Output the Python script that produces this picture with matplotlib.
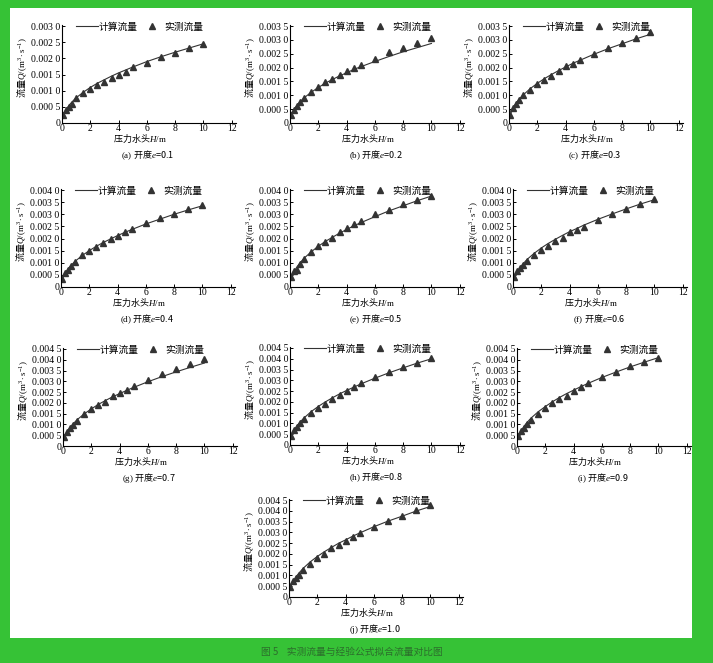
import matplotlib
matplotlib.use('Agg')
import matplotlib.pyplot as plt
from matplotlib.patches import Rectangle
from matplotlib.lines import Line2D
from matplotlib.ticker import FuncFormatter, MultipleLocator

plt.rcParams['font.family'] = ['Liberation Serif', 'Noto Sans CJK SC']
plt.rcParams['mathtext.fontset'] = 'custom'
plt.rcParams['mathtext.rm'] = 'Liberation Serif'
plt.rcParams['mathtext.it'] = 'Liberation Serif:italic'

# pressure head H (m)
head = [0.1, 0.3, 0.5, 0.7, 1.0, 1.5, 2.0, 2.5, 3.0, 3.5, 4.0, 4.5, 5.0, 6.0, 7.0, 8.0, 9.0, 10.0]

openings = ['0.1', '0.2', '0.3', '0.4', '0.5', '0.6', '0.7', '0.8', '0.9', '1.0']
letters = ['a', 'b', 'c', 'd', 'e', 'f', 'g', 'h', 'i', 'j']
ymax_ticks = [0.003, 0.0035, 0.0035, 0.004, 0.004, 0.004, 0.0045, 0.0045, 0.0045, 0.0045]

# measured flow (m3/s)
meas_a = [0.00025, 0.00040, 0.00050, 0.00060, 0.00078, 0.00093, 0.00105, 0.00118, 0.00126, 0.00138,
          0.00147, 0.00157, 0.00172, 0.00187, 0.00205, 0.00218, 0.00232, 0.00245]
meas_b = [0.00028, 0.00048, 0.00060, 0.00075, 0.00092, 0.00112, 0.00130, 0.00148, 0.00160, 0.00172,
          0.00186, 0.00197, 0.00210, 0.00230, 0.00255, 0.00270, 0.00290, 0.00305]
meas_c = [0.00030, 0.00055, 0.00070, 0.00082, 0.00100, 0.00120, 0.00140, 0.00155, 0.00170, 0.00188,
          0.00205, 0.00213, 0.00228, 0.00248, 0.00270, 0.00290, 0.00308, 0.00330]
meas_d = [0.00035, 0.00058, 0.00070, 0.00085, 0.00105, 0.00133, 0.00148, 0.00165, 0.00183, 0.00198,
          0.00212, 0.00225, 0.00240, 0.00262, 0.00283, 0.00302, 0.00320, 0.00337]
meas_e = [0.00040, 0.00065, 0.00072, 0.00095, 0.00115, 0.00145, 0.00170, 0.00187, 0.00203, 0.00227,
          0.00243, 0.00260, 0.00272, 0.00300, 0.00318, 0.00342, 0.00360, 0.00377]
meas_f = [0.00040, 0.00065, 0.00078, 0.00090, 0.00108, 0.00132, 0.00152, 0.00170, 0.00188, 0.00203,
          0.00225, 0.00237, 0.00248, 0.00277, 0.00303, 0.00320, 0.00343, 0.00362]
meas_g = [0.00040, 0.00065, 0.00082, 0.00097, 0.00118, 0.00148, 0.00170, 0.00190, 0.00205, 0.00230,
          0.00245, 0.00262, 0.00280, 0.00308, 0.00333, 0.00357, 0.00380, 0.00402]
meas_h = [0.00040, 0.00068, 0.00085, 0.00100, 0.00120, 0.00148, 0.00172, 0.00190, 0.00215, 0.00230,
          0.00250, 0.00267, 0.00287, 0.00315, 0.00340, 0.00360, 0.00382, 0.00405]
meas_i = [0.00045, 0.00070, 0.00085, 0.00100, 0.00120, 0.00150, 0.00175, 0.00200, 0.00218, 0.00230,
          0.00253, 0.00272, 0.00290, 0.00318, 0.00345, 0.00370, 0.00388, 0.00410]
meas_j = [0.00048, 0.00075, 0.00088, 0.00100, 0.00125, 0.00153, 0.00183, 0.00200, 0.00227, 0.00243,
          0.00260, 0.00278, 0.00297, 0.00327, 0.00352, 0.00378, 0.00402, 0.00425]

# calculated flow (m3/s)
calc_a = [0.00025, 0.00042, 0.00055, 0.00065, 0.00078, 0.00095, 0.00110, 0.00123, 0.00134, 0.00145,
          0.00155, 0.00164, 0.00173, 0.00190, 0.00205, 0.00219, 0.00232, 0.00245]
calc_b = [0.00029, 0.00050, 0.00064, 0.00076, 0.00091, 0.00111, 0.00128, 0.00144, 0.00157, 0.00170,
          0.00181, 0.00193, 0.00203, 0.00222, 0.00240, 0.00257, 0.00272, 0.00287]
calc_c = [0.00032, 0.00055, 0.00072, 0.00085, 0.00101, 0.00124, 0.00143, 0.00160, 0.00175, 0.00189,
          0.00202, 0.00215, 0.00226, 0.00248, 0.00268, 0.00286, 0.00304, 0.00320]
calc_d = [0.00034, 0.00058, 0.00075, 0.00089, 0.00106, 0.00130, 0.00150, 0.00168, 0.00184, 0.00198,
          0.00212, 0.00225, 0.00237, 0.00260, 0.00280, 0.00300, 0.00318, 0.00335]
calc_e = [0.00038, 0.00065, 0.00084, 0.00099, 0.00119, 0.00145, 0.00168, 0.00188, 0.00205, 0.00222,
          0.00237, 0.00252, 0.00265, 0.00290, 0.00314, 0.00335, 0.00356, 0.00375]
calc_f = [0.00036, 0.00062, 0.00080, 0.00095, 0.00114, 0.00139, 0.00161, 0.00180, 0.00197, 0.00213,
          0.00228, 0.00241, 0.00255, 0.00279, 0.00301, 0.00322, 0.00342, 0.00360]
calc_g = [0.00039, 0.00067, 0.00086, 0.00102, 0.00122, 0.00149, 0.00172, 0.00193, 0.00211, 0.00228,
          0.00243, 0.00258, 0.00272, 0.00298, 0.00322, 0.00344, 0.00365, 0.00385]
calc_h = [0.00040, 0.00069, 0.00090, 0.00106, 0.00126, 0.00155, 0.00179, 0.00200, 0.00219, 0.00237,
          0.00253, 0.00268, 0.00283, 0.00310, 0.00335, 0.00358, 0.00380, 0.00400]
calc_i = [0.00041, 0.00071, 0.00092, 0.00109, 0.00130, 0.00159, 0.00183, 0.00205, 0.00225, 0.00243,
          0.00259, 0.00275, 0.00290, 0.00318, 0.00343, 0.00367, 0.00389, 0.00410]
calc_j = [0.00042, 0.00073, 0.00094, 0.00111, 0.00133, 0.00163, 0.00188, 0.00210, 0.00230, 0.00249,
          0.00265, 0.00282, 0.00297, 0.00326, 0.00352, 0.00375, 0.00399, 0.00420]

measured = [meas_a, meas_b, meas_c, meas_d, meas_e, meas_f, meas_g, meas_h, meas_i, meas_j]
calculated = [calc_a, calc_b, calc_c, calc_d, calc_e, calc_f, calc_g, calc_h, calc_i, calc_j]

# panel placement in pixels: left edge of axis, y of zero line
lefts = [62, 290, 509, 61, 290, 513, 63, 290, 517, 289]
zeros = [123, 123, 123, 287, 287, 287, 446, 445, 446, 597]

W, H = 713, 663
GREEN = '#36c236'
CJK = 'Noto Sans CJK SC'


def fmt(v, pos):
    if abs(v) < 1e-12:
        return '0'
    s = '%.4f' % v
    return s[:-1] + ' ' + s[-1]


fig = plt.figure(figsize=(W / 100, H / 100), dpi=100)
fig.patch.set_facecolor(GREEN)
fig.patches.append(Rectangle((10 / W, 1 - 638 / H), 682 / W, 630 / H,
                             transform=fig.transFigure, facecolor='white', edgecolor='none', zorder=-5))

for k in range(10):
    left, y0 = lefts[k], zeros[k]
    ax = fig.add_axes([left / W, 1 - y0 / H, 174 / W, 98 / H])
    ax.set_zorder(2)
    ax.patch.set_alpha(0)
    ax.plot(head, calculated[k], color='#333333', lw=0.8)
    ax.plot(head, measured[k], ls='none', marker='^', color='#333333', ms=5)
    ax.set_xlim(0, 12.3)
    ax.set_ylim(0, ymax_ticks[k] * 98 / 97)
    ax.xaxis.set_major_locator(MultipleLocator(2))
    ax.yaxis.set_major_locator(MultipleLocator(0.0005))
    ax.yaxis.set_major_formatter(FuncFormatter(fmt))
    ax.spines['top'].set_visible(False)
    ax.spines['right'].set_visible(False)
    for s in ['left', 'bottom']:
        ax.spines[s].set_linewidth(0.8)
    ax.tick_params(direction='in', length=2.5, width=0.7, labelsize=7, pad=1)

    handles = [Line2D([], [], color='#333333', lw=0.8),
               Line2D([], [], ls='none', marker='^', color='#333333', ms=4)]
    ax.legend(handles, ['计算流量', '实测流量'], loc='center', bbox_to_anchor=(0.445, 0.985),
              ncol=2, frameon=False, prop={'family': CJK, 'size': 7},
              handlelength=2.3, handletextpad=0.1, columnspacing=0.3, borderpad=0)

    fig.text((left - 40) / W, 1 - (y0 - 55) / H, r'流量$Q/(\mathrm{m^3\cdot s^{-1}})$',
             family=CJK, fontsize=6.5, rotation=90, ha='center', va='center')
    fig.text((left + 78) / W, 1 - (y0 + 16) / H, r'压力水头$H\mathrm{/m}$',
             family=CJK, fontsize=6.5, ha='center', va='center')
    fig.text((left + 86) / W, 1 - (y0 + 32) / H,
             r'$\mathrm{(%s)}$ 开度$e$=%s' % (letters[k], openings[k]),
             family=CJK, fontsize=6.5, ha='center', va='center')

fig.text(352 / W, 1 - 652 / H, '图 5    实测流量与经验公式拟合流量对比图',
         family=CJK, fontsize=7, color='#2c6e2c', ha='center', va='center')

fig.savefig('out.png', dpi=100, facecolor=GREEN)
